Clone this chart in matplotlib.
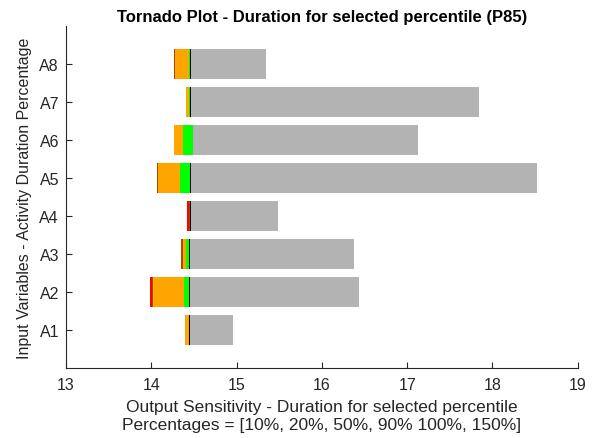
import matplotlib
matplotlib.use('Agg')
import matplotlib.pyplot as plt
import numpy as np

plt.rcParams['font.family'] = ['Liberation Sans', 'DejaVu Sans']

# activity labels (bottom to top)
labels = ['A1', 'A2', 'A3', 'A4', 'A5', 'A6', 'A7', 'A8']

# left edge of each coloured segment
red_left    = [14.400, 13.980, 14.343, 14.414, 14.062, 14.261, 14.402, 14.261]
brown_left  = [14.400, 14.004, 14.343, 14.445, 14.062, 14.261, 14.402, 14.261]
orange_left = [14.400, 14.023, 14.367, 14.449, 14.074, 14.270, 14.402, 14.273]
green_left  = [14.437, 14.382, 14.402, 14.453, 14.335, 14.367, 14.445, 14.437]
black_left  = [14.437, 14.445, 14.445, 14.453, 14.453, 14.484, 14.453, 14.453]
gray_left   = [14.453, 14.457, 14.457, 14.465, 14.469, 14.492, 14.469, 14.461]
gray_right  = [14.96, 16.43, 16.38, 15.48, 18.52, 17.13, 17.84, 15.34]

edges = [red_left, brown_left, orange_left, green_left, black_left, gray_left, gray_right]
colors = ['#FF0000', '#A04E00', '#FFA500', '#00FF00', '#000000', '#B3B3B3']

fig = plt.figure(figsize=(6.0, 4.39), dpi=100)
ax = fig.add_axes([0.11, 0.16, 0.853, 0.778])

y = np.arange(1, len(labels) + 1)
for i in range(len(colors)):
    left = np.array(edges[i])
    right = np.array(edges[i + 1])
    ax.barh(y, right - left, 0.8, left=left, color=colors[i], linewidth=0)

ax.set_xlim(13, 19)
ax.set_ylim(0, 9)
ax.set_xticks([13, 14, 15, 16, 17, 18, 19])
ax.set_yticks(y)
ax.set_yticklabels(labels)

ax.spines['top'].set_visible(False)
ax.spines['right'].set_visible(False)
for s in ['left', 'bottom']:
    ax.spines[s].set_color('#262626')
    ax.spines[s].set_linewidth(0.8)
ax.tick_params(direction='in', length=4, width=0.8, colors='#262626', labelsize=11.5)
ax.tick_params(axis='y', pad=5)
ax.tick_params(axis='x', pad=7)

ax.set_title('Tornado Plot - Duration for selected percentile (P85)',
             fontsize=12, fontweight='bold', color='black', pad=4)
ax.set_xlabel('Output Sensitivity - Duration for selected percentile\n'
              'Percentages = [10%, 20%, 50%, 90% 100%, 150%]',
              fontsize=12.5, color='#262626', linespacing=1.25, labelpad=5)
ax.set_ylabel('Input Variables - Activity Duration Percentage', fontsize=11.5,
              color='#262626', labelpad=5)

plt.savefig('out.png', dpi=100)
